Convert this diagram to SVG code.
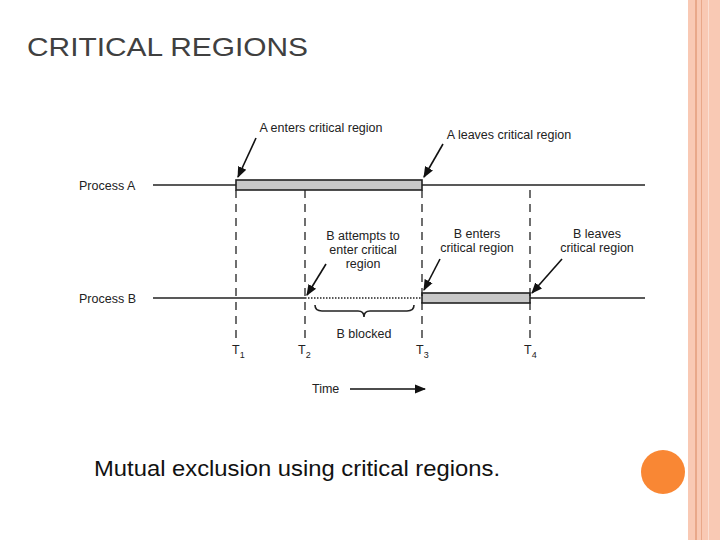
<svg xmlns="http://www.w3.org/2000/svg" width="720" height="540" viewBox="0 0 720 540">
<defs>
<marker id="ah" viewBox="0 0 10 10" refX="9" refY="5" markerWidth="7" markerHeight="7" orient="auto"><path d="M0,1 L10,5 L0,9 z" fill="#111"/></marker>
<style>
.t{font-family:"Liberation Sans",Arial,sans-serif;fill:#222;font-size:12.5px}
.ln{stroke:#222;stroke-width:1.6;fill:none}
.dash{stroke:#222;stroke-width:1.3;stroke-dasharray:8,6;fill:none}
.bar{fill:#c8c8c8;stroke:#222;stroke-width:1.6}
.ar{stroke:#111;stroke-width:1.6;fill:none;marker-end:url(#ah)}
</style>
</defs>
<rect width="720" height="540" fill="#fff"/>
<rect x="688" y="0" width="32" height="540" fill="#f9c9b4"/>
<rect x="695" y="0" width="2" height="540" fill="#e9a88a"/>
<rect x="701" y="0" width="1" height="540" fill="#e9a88a"/>
<rect x="708" y="0" width="1" height="540" fill="#fbe0d4"/>
<text x="27" y="56" font-family="Liberation Sans,Arial,sans-serif" font-size="26" fill="#404040" textLength="281" lengthAdjust="spacingAndGlyphs">CRITICAL REGIONS</text>
<g id="processA">
<text class="t" x="79" y="190">Process A</text>
<line class="ln" x1="153" y1="185" x2="645" y2="185"/>
<rect class="bar" x="236" y="180" width="186" height="10"/>
</g>
<g id="processB">
<text class="t" x="79" y="303">Process B</text>
<line class="ln" x1="153" y1="298" x2="305" y2="298"/>
<line x1="305" y1="298" x2="422" y2="298" stroke="#222" stroke-width="1.6" stroke-dasharray="1.5,1.5"/>
<rect class="bar" x="422" y="293" width="108" height="10"/>
<line class="ln" x1="530" y1="298" x2="645" y2="298"/>
</g>
<g id="markers">
<line class="dash" x1="236" y1="190" x2="236" y2="340"/>
<line class="dash" x1="305" y1="190" x2="305" y2="340"/>
<line class="dash" x1="422" y1="190" x2="422" y2="340"/>
<line class="dash" x1="530" y1="190" x2="530" y2="340"/>
<text class="t" x="232" y="354" font-size="13">T<tspan font-size="9" dy="4">1</tspan></text>
<text class="t" x="298" y="354" font-size="13">T<tspan font-size="9" dy="4">2</tspan></text>
<text class="t" x="416" y="354" font-size="13">T<tspan font-size="9" dy="4">3</tspan></text>
<text class="t" x="524" y="354" font-size="13">T<tspan font-size="9" dy="4">4</tspan></text>
<path d="M315,305 Q315,311 322,311 L358,311 Q364,311 364,317 Q364,311 370,311 L407,311 Q414,311 414,305" class="ln" stroke-width="1.2"/>
<text class="t" x="364" y="338" text-anchor="middle">B blocked</text>
</g>
<g id="labels">
<text class="t" x="321" y="132" text-anchor="middle">A enters critical region</text>
<text class="t" x="509" y="139" text-anchor="middle">A leaves critical region</text>
<text class="t" x="363" y="240" text-anchor="middle">B attempts to</text>
<text class="t" x="363" y="254" text-anchor="middle">enter critical</text>
<text class="t" x="363" y="268" text-anchor="middle">region</text>
<text class="t" x="477" y="238" text-anchor="middle">B enters</text>
<text class="t" x="477" y="252" text-anchor="middle">critical region</text>
<text class="t" x="597" y="238" text-anchor="middle">B leaves</text>
<text class="t" x="597" y="252" text-anchor="middle">critical region</text>
<text class="t" x="312" y="393">Time</text>
</g>
<g id="connectors">
<line class="ar" x1="256" y1="138" x2="238" y2="177"/>
<line class="ar" x1="443" y1="144" x2="424" y2="177"/>
<line class="ar" x1="326" y1="264" x2="307" y2="295"/>
<line class="ar" x1="440" y1="259" x2="424" y2="290"/>
<line class="ar" x1="562" y1="259" x2="532" y2="293"/>
<line class="ar" x1="350" y1="389" x2="425" y2="389"/>
</g>
<text x="94" y="476" font-family="Liberation Sans,Arial,sans-serif" font-size="22" fill="#111" textLength="406" lengthAdjust="spacingAndGlyphs">Mutual exclusion using critical regions.</text>
<circle cx="663" cy="472" r="22" fill="#f98734"/>
</svg>
